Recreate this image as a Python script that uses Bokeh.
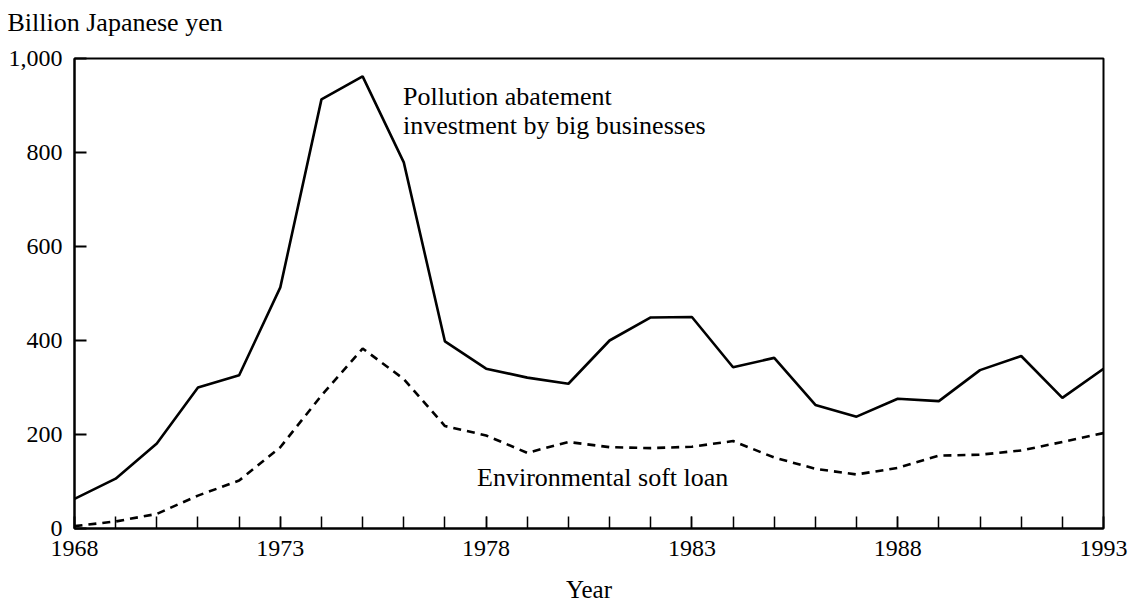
from bokeh.plotting import figure
from bokeh.models import Range1d, FixedTicker, Label, Title
from bokeh.embed import file_html
from bokeh.resources import INLINE

# ---- data ----
years = list(range(1968, 1994))
abatement = [63, 106, 181, 300, 326, 513, 913, 962, 779, 398, 340, 321, 308,
             400, 449, 450, 343, 363, 263, 238, 276, 271, 337, 367, 278, 340]
soft_loan = [5, 15, 31, 70, 102, 173, 283, 383, 318, 218, 198, 161, 184,
             173, 171, 174, 186, 151, 127, 115, 129, 155, 157, 166, 184, 203]
x_major_ticks = [1968, 1973, 1978, 1983, 1988, 1993]
y_ticks = [0, 200, 400, 600, 800, 1000]
y_tick_labels = {1000: "1,000"}

FONT = "Liberation Serif"

p = figure(frame_width=1029, frame_height=470, output_backend="svg", toolbar_location=None,
           x_range=Range1d(1968, 1993), y_range=Range1d(0, 1000), title=None,
           min_border_left=74, min_border_right=25, min_border_top=0,
           min_border_bottom=60)
p.background_fill_color = "white"
p.border_fill_color = "white"
p.grid.visible = False
p.outline_line_color = "black"
p.outline_line_width = 2
p.outline_line_alpha = 1.0

# spacer title (closest to the frame), then the real unit title above it
p.add_layout(Title(text=" ", text_font_size="1px", standoff=14), "above")
p.add_layout(Title(text="Billion Japanese yen", align="left", offset=-67,
                   standoff=10, text_font=FONT, text_font_size="26px",
                   text_font_style="normal", text_color="black"), "above")

p.line(years, abatement, line_color="black", line_width=2.6)
p.line(years, soft_loan, line_color="black", line_width=2.6, line_dash="8 6")

# axes
xa = p.xaxis[0]
xa.ticker = FixedTicker(ticks=x_major_ticks, minor_ticks=years)
ya = p.yaxis[0]
ya.ticker = FixedTicker(ticks=y_ticks)
ya.major_label_overrides = y_tick_labels
for ax in (xa, ya):
    ax.axis_line_color = "black"
    ax.axis_line_width = 2
    ax.major_tick_in = 12
    ax.major_tick_out = 0
    ax.major_tick_line_color = "black"
    ax.major_label_text_font = FONT
    ax.major_label_text_font_size = "24px"
    ax.major_label_text_color = "black"
xa.major_tick_line_width = 1.5
xa.minor_tick_in = 12
xa.minor_tick_out = 0
xa.minor_tick_line_color = "black"
xa.minor_tick_line_width = 1.5
xa.major_label_standoff = 12
xa.axis_label = "Year"
xa.axis_label_text_font = FONT
xa.axis_label_text_font_size = "25px"
xa.axis_label_text_font_style = "normal"
xa.axis_label_text_color = "black"
xa.axis_label_standoff = 17
ya.major_tick_line_width = 2
ya.minor_tick_line_color = None
ya.major_label_standoff = 12

# annotations inside the frame
p.add_layout(Label(x=1975.98, y=919, text="Pollution abatement",
                   text_font=FONT, text_font_size="26px", text_color="black",
                   text_align="left", text_baseline="alphabetic"))
p.add_layout(Label(x=1975.98, y=857, text="investment by big businesses",
                   text_font=FONT, text_font_size="26px", text_color="black",
                   text_align="left", text_baseline="alphabetic"))
p.add_layout(Label(x=1977.78, y=108, text="Environmental soft loan",
                   text_font=FONT, text_font_size="26px", text_color="black",
                   text_align="left", text_baseline="alphabetic"))

open("out.html", "w").write(file_html(p, INLINE))
